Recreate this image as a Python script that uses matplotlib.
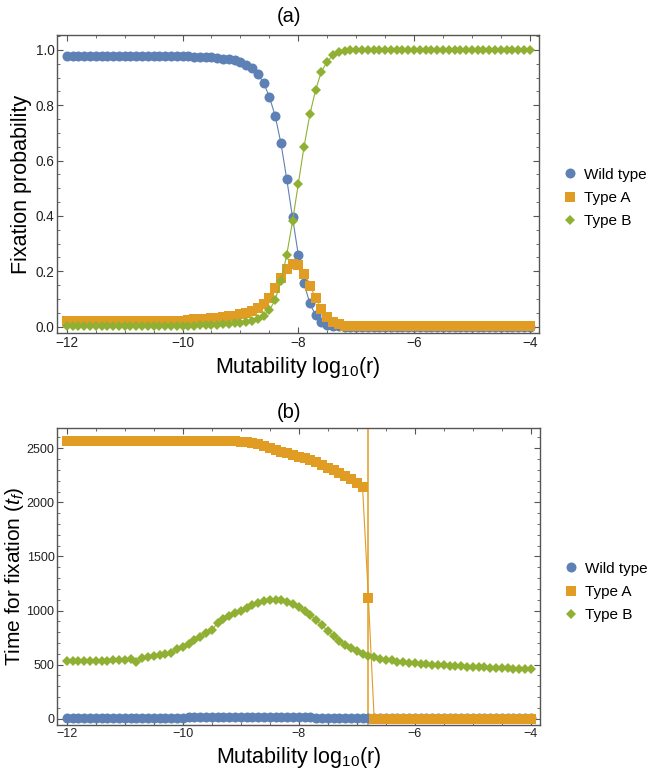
import numpy as np
import matplotlib.pyplot as plt
from matplotlib.lines import Line2D
from matplotlib.ticker import MultipleLocator

plt.rcParams['font.family'] = ['Liberation Sans', 'DejaVu Sans']
plt.rcParams['mathtext.fontset'] = 'custom'
plt.rcParams['mathtext.rm'] = 'Liberation Sans'
plt.rcParams['mathtext.it'] = 'Liberation Sans:italic'

# mutability grid, log10(r) from -12 to -4 in steps of 0.1
log_r = np.linspace(-12, -4, 81)

# (a) fixation probability
prob_wild = [0.978] * 21 + [
    0.977, 0.976, 0.975, 0.974, 0.973, 0.971, 0.969, 0.966, 0.962, 0.956,
    0.947, 0.934, 0.913, 0.881, 0.831, 0.762, 0.663, 0.534, 0.395, 0.260,
    0.156, 0.084, 0.041, 0.018, 0.007, 0.003, 0.001] + [0.0] * 33
prob_a = [0.022] * 21 + [
    0.025, 0.026, 0.027, 0.028, 0.030, 0.032, 0.034, 0.037, 0.040, 0.044,
    0.049, 0.056, 0.066, 0.082, 0.105, 0.140, 0.176, 0.208, 0.226, 0.222,
    0.192, 0.148, 0.104, 0.064, 0.035, 0.017, 0.008, 0.004] + [0.002] * 32
prob_b = [0.003] * 21 + [
    0.004, 0.004, 0.005, 0.005, 0.006, 0.007, 0.008, 0.010, 0.012, 0.014,
    0.017, 0.022, 0.029, 0.040, 0.059, 0.097, 0.164, 0.259, 0.380, 0.516,
    0.651, 0.767, 0.856, 0.922, 0.958, 0.981, 0.992, 0.996, 0.998] + [0.999] * 31

# (b) time for fixation
time_wild = [8] * 10 + [
    8, 8, 9, 9, 9, 10, 10, 10, 11, 11,
    11, 12, 12, 13, 13, 14, 14, 15, 15, 16,
    16, 17, 17, 18, 18, 18, 18, 17, 16, 15,
    14, 13, 12, 11, 10, 9, 8, 7, 6, 6,
    5, 5, 5] + [5] * 28
time_a = [2565] * 30 + [
    2562, 2558, 2550, 2540, 2525, 2505, 2485, 2468, 2452, 2437,
    2422, 2406, 2390, 2370, 2345, 2322, 2298, 2272, 2245, 2215,
    2182, 2140, 1120] + [0] * 28
time_b = [
    530, 532, 533, 534, 535, 536, 537, 538, 540, 542,
    545, 548, 520, 565, 572, 578, 585, 598, 605, 645,
    662, 695, 725, 758, 790, 820, 885, 920, 950, 975,
    1000, 1028, 1052, 1070, 1084, 1093, 1098, 1093, 1080, 1060,
    1032, 998, 958, 910, 862, 812, 765, 720, 683, 652,
    625, 602, 582, 567, 556, 547, 539, 528, 521, 516,
    512, 508, 504, 500, 497, 494, 491, 488, 485, 482,
    480, 477, 475, 472, 470, 468, 466, 464, 462, 460,
    458]
critical_log_r = -6.8

labels = ['Wild type', 'Type A', 'Type B']
colors = ['#5E81B5', '#E19C24', '#8FB032']
markers = ['o', 's', 'D']
msizes = [7.2, 7.4, 5.4]
frame_color = '#555555'


def draw_panel(ax, series, legend_y, tick_size):
    for ys, c, m, ms in zip(series, colors, markers, msizes):
        ax.plot(log_r, ys, color=c, lw=0.8, marker=m, ms=ms, mew=0)
    ax.set_xlim(-12.17, -3.84)
    ax.xaxis.set_major_locator(MultipleLocator(2))
    ax.xaxis.set_minor_locator(MultipleLocator(0.5))
    ax.tick_params(which='both', direction='in', top=True, right=True,
                   color=frame_color, labelsize=tick_size,
                   labelcolor='#222222')
    ax.tick_params(axis='x', pad=2.5)
    ax.tick_params(axis='y', pad=1.8)
    ax.tick_params(which='major', length=4.5, width=0.8)
    ax.tick_params(which='minor', length=2.5, width=0.6)
    for s in ax.spines.values():
        s.set_color(frame_color)
        s.set_linewidth(1.0)
    ax.set_xlabel('Mutability log$_{10}$(r)', fontsize=15.5, labelpad=3)
    handles = [Line2D([], [], color=c, marker=m, ms=ms, mew=0, lw=0)
               for c, m, ms in zip(colors, markers, msizes)]
    ax.legend(handles, labels, loc='center left',
              bbox_to_anchor=(1.035, legend_y), frameon=False, fontsize=11,
              handlelength=0.8, handletextpad=0.55, labelspacing=0.62,
              borderpad=0)


fig = plt.figure(figsize=(6.64, 7.76), dpi=100)

ax1 = fig.add_axes([57 / 664, 1 - 333 / 776, 482 / 664, 298 / 776])
draw_panel(ax1, [prob_wild, prob_a, prob_b], 0.453, 9.8)
ax1.set_ylim(-0.023, 1.054)
ax1.yaxis.set_major_locator(MultipleLocator(0.2))
ax1.yaxis.set_minor_locator(MultipleLocator(0.05))
ax1.yaxis.set_major_formatter(lambda v, p: f'{v:.1f}')
ax1.set_ylabel('Fixation probability', fontsize=15.5)
ax1.yaxis.set_label_coords(-0.052, 0.5)
fig.text(289 / 664, 1 - 17 / 776, '(a)', fontsize=14.5, ha='center', va='center')

ax2 = fig.add_axes([57 / 664, 1 - 725 / 776, 483 / 664, 297.5 / 776])
ax2.axvline(critical_log_r, color=colors[1], lw=1.1, zorder=1)
draw_panel(ax2, [time_wild, time_a, time_b], 0.447, 9)
ax2.set_ylim(-58, 2692)
ax2.yaxis.set_major_locator(MultipleLocator(500))
ax2.yaxis.set_minor_locator(MultipleLocator(100))
ax2.set_ylabel('Time for fixation ($t_f$)', fontsize=15)
ax2.yaxis.set_label_coords(-0.064, 0.5)
fig.text(289 / 664, 1 - 412 / 776, '(b)', fontsize=14.5, ha='center', va='center')

fig.savefig('out.png', dpi=100)
